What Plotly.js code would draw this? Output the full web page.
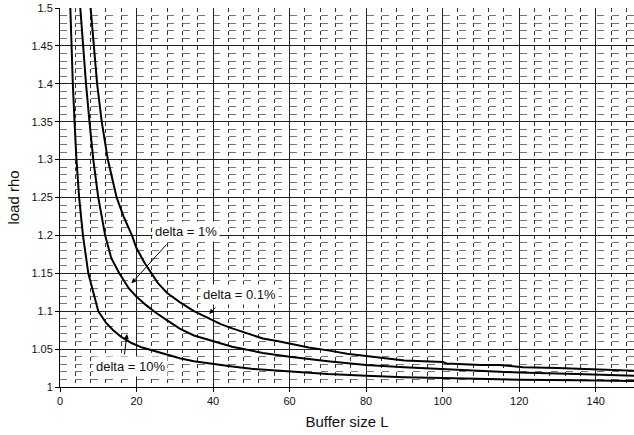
<!DOCTYPE html>
<html>
<head>
<meta charset="utf-8">
<script src="https://cdn.plot.ly/plotly-3.0.1.min.js"></script>
<style>html,body{margin:0;padding:0;background:#fff;}#chart{width:634px;height:435px;}</style>
</head>
<body>
<div id="chart"></div>
<script>
// Buffer size L and load rho
const L_delta10 = [2.7, 3.0, 3.35, 3.8, 4.3, 5.0, 6.0, 7.4, 8.5, 10, 12, 13.9, 16, 18.7, 21.5, 24.8, 28, 31.3, 35, 40, 45, 50, 55, 60, 70, 80, 90, 100, 110, 120, 135, 150];
const rho_delta10 = [1.5, 1.45, 1.40, 1.35, 1.30, 1.25, 1.20, 1.15, 1.128, 1.10, 1.085, 1.075, 1.066, 1.058, 1.052, 1.047, 1.042, 1.038, 1.034, 1.030, 1.027, 1.024, 1.022, 1.020, 1.017, 1.015, 1.013, 1.012, 1.011, 1.0095, 1.009, 1.008];

const L_delta1 = [5.3, 6.0, 6.8, 7.7, 8.7, 10.0, 11.8, 13.4, 15.5, 18, 20, 22.5, 24.8, 28, 31.3, 35, 40, 45, 53, 60, 70, 80, 90, 100, 110, 120, 135, 150];
const rho_delta1 = [1.5, 1.45, 1.40, 1.35, 1.30, 1.25, 1.20, 1.17, 1.15, 1.13, 1.119, 1.108, 1.099, 1.088, 1.077, 1.068, 1.060, 1.053, 1.045, 1.040, 1.034, 1.029, 1.026, 1.024, 1.021, 1.019, 1.017, 1.015];

const L_delta01 = [8.0, 8.8, 9.7, 10.9, 12.5, 14.8, 16.6, 18.8, 20, 22.2, 25.6, 28, 31.3, 35, 40, 42, 45.2, 48, 53, 57.4, 60, 65, 70.4, 75, 80, 85, 90, 95, 100, 101, 105, 110, 115, 120, 121, 130, 140, 150];
const rho_delta01 = [1.5, 1.45, 1.40, 1.35, 1.30, 1.25, 1.225, 1.20, 1.183, 1.163, 1.137, 1.124, 1.112, 1.100, 1.088, 1.083, 1.077, 1.072, 1.064, 1.060, 1.057, 1.052, 1.048, 1.044, 1.041, 1.038, 1.035, 1.034, 1.033, 1.031, 1.030, 1.029, 1.029, 1.027, 1.026, 1.025, 1.023, 1.0215];

const xTicks = [0, 20, 40, 60, 80, 100, 120, 140];
const labels = ["delta = 1%", "delta = 0.1%", "delta = 10%"];
const labelPos = [[33.05, 1.2045], [46.96, 1.1214], [18.34, 1.0268]];
const arrowHeads = [[18.7, 1.1368], [39.0, 1.0963], [17.5, 1.0699]];
const arrowTails = [[36.3, -40.3], [7.4, -8], [-2.7, 22]];

const font = "Liberation Sans, Arial, sans-serif";
const lineStyle = {color: "#000", width: 2};
const traces = [
  {x: L_delta10, y: rho_delta10, mode: "lines", line: lineStyle, hoverinfo: "skip"},
  {x: L_delta1, y: rho_delta1, mode: "lines", line: lineStyle, hoverinfo: "skip"},
  {x: L_delta01, y: rho_delta01, mode: "lines", line: lineStyle, hoverinfo: "skip"}
];

const annotations = [];
labels.forEach((t, i) => {
  annotations.push({x: labelPos[i][0], y: labelPos[i][1], xref: "x", yref: "y", text: t,
    showarrow: false, bgcolor: "#fff", borderpad: 2,
    font: {family: font, size: 13, color: "#111"}});
});
labels.forEach((t, i) => {
  annotations.push({x: arrowHeads[i][0], y: arrowHeads[i][1], xref: "x", yref: "y", text: "",
    showarrow: true, arrowhead: 2, arrowsize: 1, arrowwidth: 1, arrowcolor: "#000",
    ax: arrowTails[i][0], ay: arrowTails[i][1], standoff: 0, startstandoff: 0});
});

const layout = {
  width: 634, height: 435,
  margin: {l: 60, r: 0, t: 8, b: 48},
  paper_bgcolor: "#fff", plot_bgcolor: "#fff",
  showlegend: false,
  font: {family: font, size: 11, color: "#111"},
  xaxis: {
    range: [0, 150], tickvals: xTicks, ticks: "outside", ticklen: 4, tickcolor: "#000",
    showline: true, linecolor: "#000", linewidth: 1,
    showgrid: true, gridcolor: "#222", gridwidth: 1, zeroline: false,
    minor: {dtick: 4, tick0: 0, showgrid: true, gridcolor: "#333", gridwidth: 1, griddash: "4px,3.58px", ticks: ""},
    title: {text: "Buffer size L", font: {family: font, size: 15, color: "#111"}, standoff: 10},
    tickfont: {family: font, size: 11, color: "#111"}
  },
  yaxis: {
    range: [1, 1.5], dtick: 0.05, tick0: 1, ticks: "outside", ticklen: 4, tickcolor: "#000",
    showline: true, linecolor: "#000", linewidth: 1,
    showgrid: true, gridcolor: "#222", gridwidth: 1, zeroline: false,
    minor: {dtick: 0.01, tick0: 1, showgrid: true, gridcolor: "#777", gridwidth: 1, griddash: "7px,8.33px", ticks: ""},
    title: {text: "load rho", font: {family: font, size: 15, color: "#111"}, standoff: 8},
    tickfont: {family: font, size: 11, color: "#111"}
  },
  annotations: annotations
};

Plotly.newPlot("chart", traces, layout, {staticPlot: true, displayModeBar: false});
</script>
</body>
</html>
